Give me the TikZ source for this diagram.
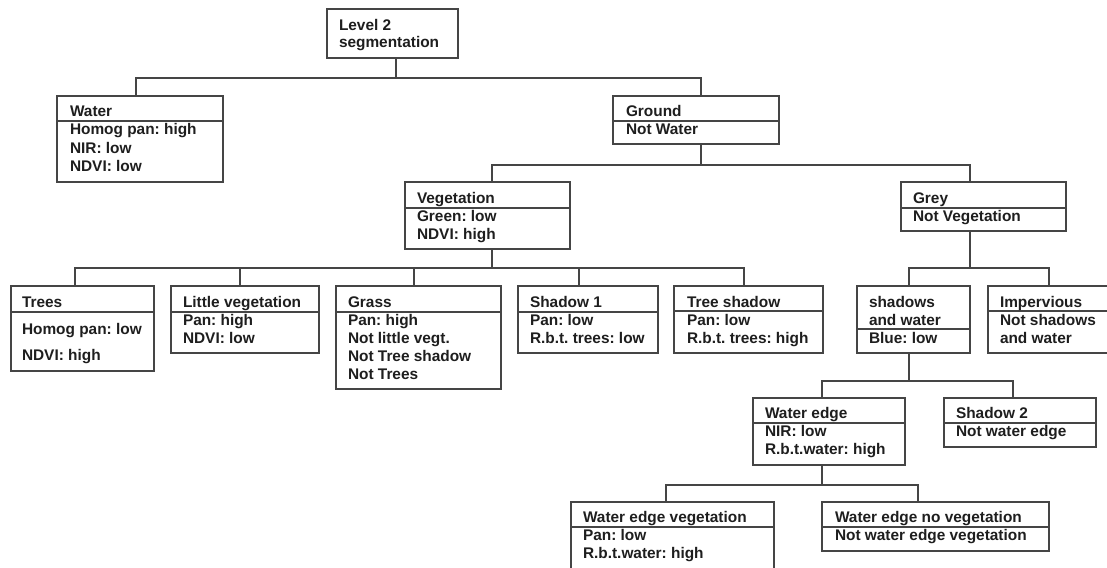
\documentclass[tikz,border=0pt]{standalone}
\usepackage{fontspec}
\setmainfont{Liberation Sans}
\usetikzlibrary{fit}
\definecolor{lncol}{HTML}{454545}
\definecolor{txcol}{HTML}{1E1E1E}
\newcommand\bx[6]{% name, x1, y1, x2, y2, separator y
  \node[boxst, fit={(#2,#3) (#4,#5)}] (#1) {};
  \draw[lnst] (#1.north west) ++(0,{#6-#3}) -- ++({#4-#2},0);}
\newcommand\bxn[5]{% box without separator
  \node[boxst, fit={(#2,#3) (#4,#5)}] (#1) {};}
\newcommand\tl[4]{\node[txt] (#1) at (#2,#3) {#4};}
\frenchspacing
\begin{document}
\frenchspacing
\begin{tikzpicture}[x=1pt,y=-1pt,
  lnst/.style={draw=lncol, line width=1.4pt},
  boxst/.style={draw=lncol, line width=1.4pt, inner sep=0pt, outer sep=0pt, fill=white},
  txt/.style={anchor=base west, inner sep=0pt, outer sep=0pt, text=txcol,
    font=\fontsize{15.4}{18}\bfseries\selectfont\frenchspacing},
  conn/.style={draw=lncol, line width=1.4pt}]
\useasboundingbox (0,0) rectangle (1107,567);
\clip (0,0) rectangle (1107,567);

% ---------- boxes ----------
\bxn{lvl}{327}{9}{458}{58}
\tl{lvl-1}{339}{31}{Level 2}
\tl{lvl-2}{339}{48}{segmentation}

\bx{water}{57}{96}{223}{182}{121}
\tl{water-h}{70}{117}{Water}
\tl{water-1}{70}{135}{Homog pan: high}
\tl{water-2}{70}{153}{NIR: low}
\tl{water-3}{70}{171}{NDVI: low}

\bx{ground}{613}{96}{779}{144}{121}
\tl{ground-h}{626}{117}{Ground}
\tl{ground-1}{626}{135}{Not Water}

\bx{veg}{405}{182}{570}{249}{208}
\tl{veg-h}{417}{203}{Vegetation}
\tl{veg-1}{417}{221}{Green: low}
\tl{veg-2}{417}{239}{NDVI: high}

\bx{grey}{901}{182}{1066}{231}{208}
\tl{grey-h}{913}{203}{Grey}
\tl{grey-1}{913}{221}{Not Vegetation}

\bx{trees}{11}{286}{154}{371}{312}
\tl{trees-h}{22}{307}{Trees}
\tl{trees-1}{22}{334}{Homog pan: low}
\tl{trees-2}{22}{360}{NDVI: high}

\bx{lv}{171}{286}{319}{353}{312}
\tl{lv-h}{183}{307}{Little vegetation}
\tl{lv-1}{183}{325}{Pan: high}
\tl{lv-2}{183}{343}{NDVI: low}

\bx{grass}{336}{286}{501}{389}{312}
\tl{grass-h}{348}{307}{Grass}
\tl{grass-1}{348}{325}{Pan: high}
\tl{grass-2}{348}{343}{Not little vegt.}
\tl{grass-3}{348}{361}{Not Tree shadow}
\tl{grass-4}{348}{379}{Not Trees}

\bx{sha}{518}{286}{658}{353}{312}
\tl{sha-h}{530}{307}{Shadow 1}
\tl{sha-1}{530}{325}{Pan: low}
\tl{sha-2}{530}{343}{R.b.t. trees: low}

\bx{ts}{674}{286}{823}{353}{311}
\tl{ts-h}{687}{307}{Tree shadow}
\tl{ts-1}{687}{325}{Pan: low}
\tl{ts-2}{687}{343}{R.b.t. trees: high}

\bx{sw}{857}{286}{970}{353}{329}
\tl{sw-h1}{869}{307}{shadows}
\tl{sw-h2}{869}{325}{and water}
\tl{sw-1}{869}{343}{Blue: low}

\bx{imp}{988}{286}{1110}{353}{311}
\tl{imp-h}{1000}{307}{Impervious}
\tl{imp-1}{1000}{325}{Not shadows}
\tl{imp-2}{1000}{343}{and water}

\bx{we}{753}{398}{905}{465}{423}
\tl{we-h}{765}{418}{Water edge}
\tl{we-1}{765}{436}{NIR: low}
\tl{we-2}{765}{454}{R.b.t.water: high}

\bx{shb}{944}{398}{1096}{447}{423}
\tl{shb-h}{956}{418}{Shadow 2}
\tl{shb-1}{956}{436}{Not water edge}

\bx{wev}{571}{502}{774}{590}{527}
\tl{wev-h}{583}{522}{Water edge vegetation}
\tl{wev-1}{583}{540}{Pan: low}
\tl{wev-2}{583}{558}{R.b.t.water: high}

\bx{wenv}{822}{502}{1049}{551}{527}
\tl{wenv-h}{835}{522}{Water edge no vegetation}
\tl{wenv-1}{835}{540}{Not water edge vegetation}

% ---------- connectors ----------
% Level 2 -> Water, Ground
\draw[conn] ([xshift=3.5pt]lvl.south) -- ++(0,20);
\draw[conn] ([xshift=-4pt]water.north) -- ++(0,-18) -| ([xshift=5pt]ground.north);
% Ground -> Vegetation, Grey
\draw[conn] ([xshift=5pt]ground.south) -- ++(0,21);
\draw[conn] ([xshift=4.5pt]veg.north) -- ++(0,-17) -| ([xshift=-13.5pt]grey.north);
% Vegetation -> five classes
\draw[conn] ([xshift=4.5pt]veg.south) -- ++(0,19);
\draw[conn] ([xshift=-7.5pt]trees.north) -- ++(0,-18) -| ([xshift=-4.5pt]ts.north);
\draw[conn] ([xshift=-5pt]lv.north) -- ++(0,-18);
\draw[conn] ([xshift=-4.5pt]grass.north) -- ++(0,-18);
\draw[conn] ([xshift=-9pt]sha.north) -- ++(0,-18);
% Grey -> shadows and water, Impervious
\draw[conn] ([xshift=-13.5pt]grey.south) -- ++(0,37);
\draw[conn] ([xshift=-4.5pt]sw.north) -- ++(0,-18) -| (imp.north);
% shadows and water -> Water edge, Shadow 2
\draw[conn] ([xshift=-4.5pt]sw.south) -- ++(0,28);
\draw[conn] ([xshift=-7pt]we.north) -- ++(0,-17) -| ([xshift=-7pt]shb.north);
% Water edge -> two classes
\draw[conn] ([xshift=-7pt]we.south) -- ++(0,20);
\draw[conn] ([xshift=-6.5pt]wev.north) -- ++(0,-17) -| ([xshift=-17.5pt]wenv.north);
\end{tikzpicture}
\end{document}
